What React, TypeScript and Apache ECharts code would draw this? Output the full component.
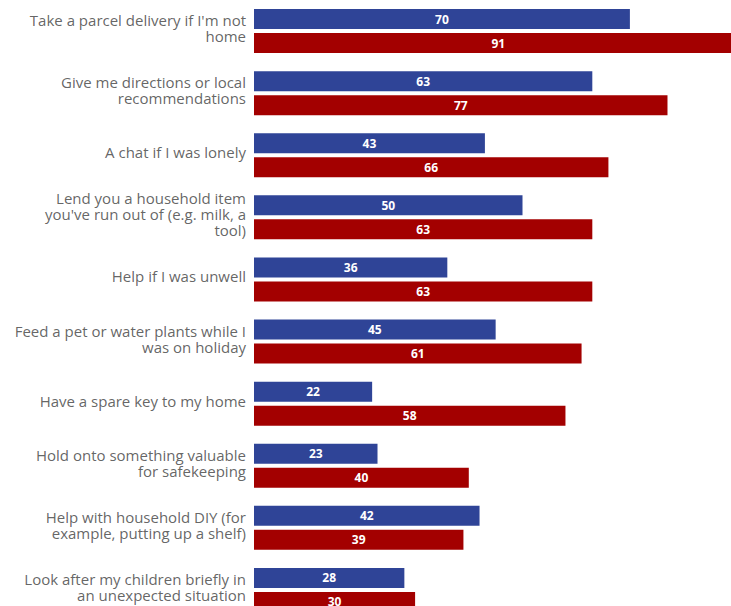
import React, { useEffect, useRef } from "react";
import * as echarts from "echarts";

const categories = [
  "Take a parcel delivery if I'm not\nhome",
  "Give me directions or local\nrecommendations",
  "A chat if I was lonely",
  "Lend you a household item\nyou've run out of (e.g. milk, a\ntool)",
  "Help if I was unwell",
  "Feed a pet or water plants while I\nwas on holiday",
  "Have a spare key to my home",
  "Hold onto something valuable\nfor safekeeping",
  "Help with household DIY (for\nexample, putting up a shelf)",
  "Look after my children briefly in\nan unexpected situation",
];

const blueValues = [70, 63, 43, 50, 36, 45, 22, 23, 42, 28];
const redValues = [91, 77, 66, 63, 63, 61, 58, 40, 39, 30];

export default function App() {
  const ref = useRef<HTMLDivElement>(null);
  useEffect(() => {
    if (!ref.current) return;
    const chart = echarts.init(ref.current, undefined, { renderer: "svg" });
    const label = {
      show: true,
      position: "inside",
      color: "#ffffff",
      fontFamily: "Open Sans",
      fontWeight: "bold",
      fontSize: 12,
    };
    chart.setOption({
      animation: false,
      grid: { left: 254, top: -2, width: 537, height: 623, containLabel: false },
      xAxis: {
        type: "value",
        min: 0,
        max: 100,
        show: false,
      },
      yAxis: {
        type: "category",
        data: categories,
        inverse: true,
        axisLine: { show: false },
        axisTick: { show: false },
        axisLabel: { show: false },
      },
      series: [
        {
          type: "bar",
          data: blueValues,
          barWidth: 20,
          barGap: "20%",
          itemStyle: { color: "#2f4497" },
          label,
        },
        {
          type: "bar",
          data: redValues,
          barWidth: 20,
          barGap: "20%",
          itemStyle: { color: "#a30000" },
          label,
        },
        {
          type: "scatter",
          silent: true,
          symbolSize: 0,
          data: categories.map((c, i) => [0, c]),
          label: {
            show: true,
            position: "left",
            distance: 8,
            offset: [0, -3],
            formatter: (p: any) => categories[p.dataIndex],
            color: "#3d3d3d",
            fontFamily: "Open Sans",
            fontSize: 15,
            lineHeight: 16,
            align: "right",
          },
        },
      ],
    });
    return () => chart.dispose();
  }, []);
  return (
    <div
      style={{
        position: "absolute",
        left: 0,
        top: 0,
        width: 731,
        height: 606,
        overflow: "hidden",
        background: "#ffffff",
      }}
    >
      <div ref={ref} style={{ width: 800, height: 625 }} />
    </div>
  );
}
